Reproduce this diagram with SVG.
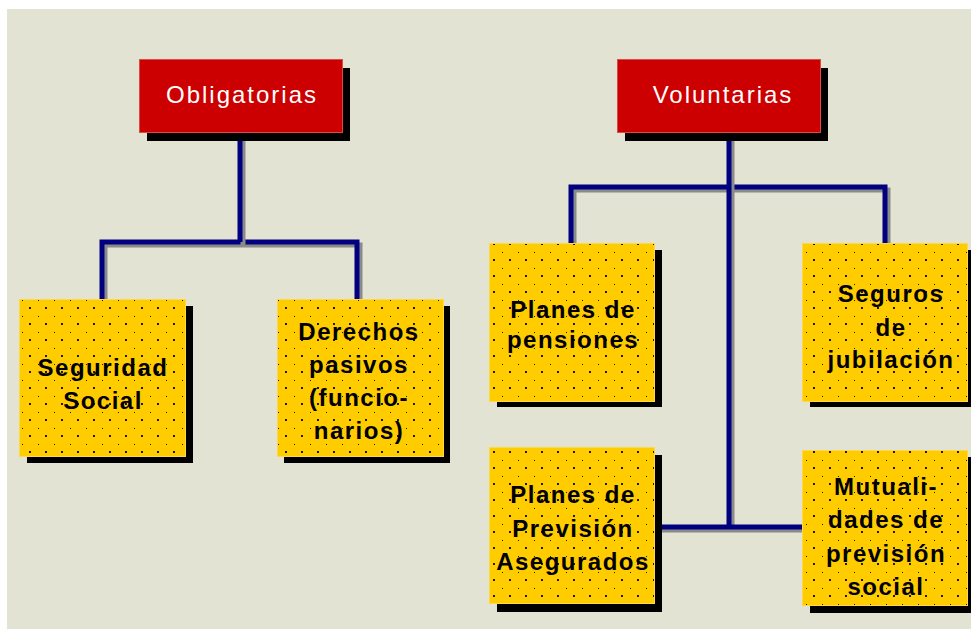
<svg xmlns="http://www.w3.org/2000/svg" width="971" height="629" viewBox="0 0 971 629">
<defs>
<pattern id="dots" patternUnits="userSpaceOnUse" x="22" y="300" width="16" height="16">
<rect x="0" y="0" width="16" height="16" fill="#ffcc00"/>
<rect x="-1" y="-1" width="2" height="2" fill="#1a1a1a"/>
<rect x="7" y="7" width="2" height="2" fill="#1a1a1a"/>
</pattern>
<style>
.bg{fill:#e3e3d3}
.shadow{fill:#000}
.red{fill:#cc0000;stroke:#e04848;stroke-width:1}
.yel{fill:url(#dots);stroke:#ffd84a;stroke-width:1}
.rt{font-family:"Liberation Sans",Arial,sans-serif;font-size:24px;fill:#fff;text-anchor:middle;letter-spacing:2px}
.yt{font-family:"Liberation Sans",Arial,sans-serif;font-size:24px;font-weight:bold;fill:#000;text-anchor:middle;letter-spacing:1.5px}
.ln{fill:none;stroke:#000080;stroke-width:5;stroke-linejoin:miter;stroke-linecap:butt}
.ls{fill:none;stroke:#8a8a8a;stroke-width:5;stroke-linejoin:miter;stroke-linecap:butt}
</style>
</defs>
<rect x="0" y="0" width="971" height="629" fill="#fff"/>
<rect class="bg" x="7" y="9" width="964" height="620"/>
<g id="connectors">
<path class="ls" d="M105,299 V245 H360 V299"/>
<path class="ln" d="M102,299 V242 H357 V299"/>
<path class="ls" d="M243,132 V245"/>
<path class="ln" d="M240,132 V242"/>
<path class="ls" d="M574,243 V190 H888 V243"/>
<path class="ln" d="M571,243 V187 H885 V243"/>
<path class="ls" d="M732,132 V527"/>
<path class="ln" d="M729,132 V527"/>
<path class="ls" d="M654,530 H802"/>
<path class="ln" d="M654,527 H802"/>
</g>
<g id="obligatorias">
<rect class="shadow" x="147" y="68" width="203" height="73"/>
<rect class="red" x="139.5" y="59.5" width="203" height="73"/>
<text class="rt" x="242" y="103">Obligatorias</text>
</g>
<g id="voluntarias">
<rect class="shadow" x="625" y="68" width="203" height="73"/>
<rect class="red" x="617.5" y="59.5" width="203" height="73"/>
<text class="rt" x="723" y="103">Voluntarias</text>
</g>
<g id="seguridad-social">
<rect class="shadow" x="27" y="306" width="166" height="157"/>
<rect class="yel" x="19.5" y="299.5" width="166" height="157"/>
<text class="yt" x="103" y="376">Seguridad</text>
<text class="yt" x="103" y="409">Social</text>
</g>
<g id="derechos-pasivos">
<rect class="shadow" x="284" y="306" width="166" height="157"/>
<rect class="yel" x="277.5" y="299.5" width="166" height="157"/>
<text class="yt" x="359" y="340">Derechos</text>
<text class="yt" x="359" y="373">pasivos</text>
<text class="yt" x="359" y="406">(funcio-</text>
<text class="yt" x="359" y="439">narios)</text>
</g>
<g id="planes-pensiones">
<rect class="shadow" x="497" y="250" width="165" height="157"/>
<rect class="yel" x="489.5" y="243.5" width="165" height="158"/>
<text class="yt" x="573" y="318">Planes de</text>
<text class="yt" x="573" y="348">pensiones</text>
</g>
<g id="seguros-jubilacion">
<rect class="shadow" x="810" y="250" width="161" height="157"/>
<rect class="yel" x="802.5" y="243.5" width="165" height="158"/>
<text class="yt" x="891" y="302">Seguros</text>
<text class="yt" x="891" y="336">de</text>
<text class="yt" x="891" y="368">jubilación</text>
</g>
<g id="planes-prevision">
<rect class="shadow" x="497" y="455" width="165" height="157"/>
<rect class="yel" x="489.5" y="447.5" width="165" height="156"/>
<text class="yt" x="573" y="503">Planes de</text>
<text class="yt" x="573" y="537">Previsión</text>
<text class="yt" x="573" y="570">Asegurados</text>
</g>
<g id="mutualidades">
<rect class="shadow" x="810" y="457" width="161" height="156"/>
<rect class="yel" x="802.5" y="450.5" width="165" height="155"/>
<text class="yt" x="886" y="495">Mutuali-</text>
<text class="yt" x="886" y="528">dades de</text>
<text class="yt" x="886" y="562">previsión</text>
<text class="yt" x="886" y="595">social</text>
</g>
</svg>
